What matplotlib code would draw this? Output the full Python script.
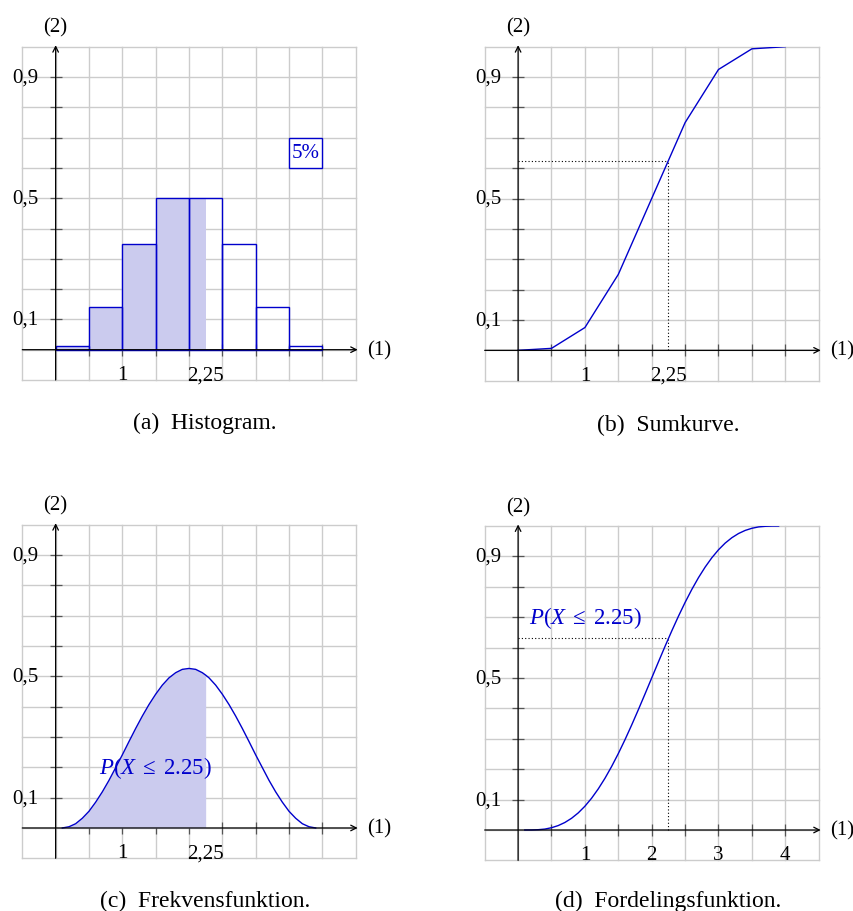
import numpy as np
import matplotlib
matplotlib.use("Agg")
import matplotlib.pyplot as plt
from matplotlib.patches import Rectangle

plt.rcParams['font.family'] = ['Liberation Serif', 'DejaVu Serif']
plt.rcParams['mathtext.fontset'] = 'custom'
plt.rcParams['mathtext.rm'] = 'Liberation Serif'
plt.rcParams['mathtext.it'] = 'Liberation Serif:italic'

# ---------------- data ----------------
bin_edges = [0.0, 0.5, 1.0, 1.5, 2.0, 2.5, 3.0, 3.5, 4.0]
hist_heights = [0.013, 0.14, 0.348, 0.5, 0.5, 0.348, 0.14, 0.013]

sum_x = [0.0, 0.5, 1.0, 1.5, 2.0, 2.5, 3.0, 3.5, 4.0]
sum_y = [0.0, 0.0065, 0.075, 0.25, 0.5, 0.75, 0.925, 0.993, 1.0]
sum_at_225 = 0.625

dens_x = [0.1, 0.2, 0.3, 0.4, 0.5, 0.6, 0.7, 0.8, 0.9, 1.0,
          1.1, 1.2, 1.3, 1.4, 1.5, 1.6, 1.7, 1.8, 1.9, 2.0,
          2.1, 2.2, 2.25, 2.3, 2.4, 2.5, 2.6, 2.7, 2.8, 2.9, 3.0,
          3.1, 3.2, 3.3, 3.4, 3.5, 3.6, 3.7, 3.8, 3.9]
dens_y = [0.0, 0.004, 0.014, 0.032, 0.055, 0.085, 0.119, 0.157, 0.199, 0.241,
          0.285, 0.328, 0.369, 0.407, 0.441, 0.471, 0.495, 0.512, 0.523, 0.526,
          0.523, 0.512, 0.504, 0.495, 0.471, 0.441, 0.407, 0.369, 0.328, 0.285, 0.241,
          0.199, 0.157, 0.119, 0.085, 0.055, 0.032, 0.014, 0.004, 0.0]

cdf_x = [0.1, 0.2, 0.3, 0.4, 0.5, 0.6, 0.7, 0.8, 0.9, 1.0,
         1.1, 1.2, 1.3, 1.4, 1.5, 1.6, 1.7, 1.8, 1.9, 2.0,
         2.1, 2.2, 2.3, 2.4, 2.5, 2.6, 2.7, 2.8, 2.9, 3.0,
         3.1, 3.2, 3.3, 3.4, 3.5, 3.6, 3.7, 3.8, 3.9]
cdf_y = [0.0, 0.0001, 0.001, 0.003, 0.0075, 0.0145, 0.0247, 0.0385, 0.0562, 0.0782,
         0.1045, 0.1352, 0.170, 0.2089, 0.2513, 0.297, 0.3453, 0.3957, 0.4475, 0.5,
         0.5525, 0.6043, 0.6547, 0.703, 0.7487, 0.7911, 0.830, 0.8648, 0.8955, 0.9218,
         0.9438, 0.9615, 0.9753, 0.9855, 0.9925, 0.997, 0.999, 0.9999, 1.0]
cdf_at_225 = 0.63

x_threshold = 2.25
y_tick_vals = [0.1, 0.5, 0.9]
y_tick_labels = ['0,1', '0,5', '0,9']
xlabels_ab = ([1, 2.25], ['1', '2,25'])
xlabels_d = ([1, 2, 3, 4], ['1', '2', '3', '4'])
captions = ['(a)  Histogram.', '(b)  Sumkurve.', '(c)  Frekvensfunktion.', '(d)  Fordelingsfunktion.']
prob_label = r'$P(X\;\leq\;2.25)$'

BLUE = '#0000cc'
FILL = '#cbcbee'
FS = 15

fig = plt.figure(figsize=(8.54, 9.12), dpi=100)
W, H = 854.0, 912.0


def make_ax(left, top, right, bottom):
    ax = fig.add_axes([left / W, 1 - bottom / H, (right - left) / W, (bottom - top) / H])
    ax.set_xlim(-0.5, 4.5)
    ax.set_ylim(-0.1, 1.0)
    ax.set_xticks(np.arange(-0.5, 4.51, 0.5))
    ax.set_yticks(np.arange(-0.1, 1.001, 0.1))
    ax.tick_params(length=0, labelbottom=False, labelleft=False)
    ax.grid(True, color='#cccccc', lw=1.0)
    for ln in ax.get_xgridlines() + ax.get_ygridlines():
        ln.set_clip_on(False)
    for s in ax.spines.values():
        s.set_visible(False)
    ax.set_axisbelow(True)
    # axis ticks
    ax.plot([0] * 9, np.arange(0.1, 0.91, 0.1), ls='none', marker='_', ms=8,
            mew=0.9, color='#555555', zorder=1.5, clip_on=False)
    ax.plot(np.arange(0.5, 4.01, 0.5), [0] * 8, ls='none', marker='|', ms=8,
            mew=0.9, color='#555555', zorder=1.5, clip_on=False)
    # arrows
    ax.annotate('', xy=(4.53, 0), xytext=(-0.5, 0), annotation_clip=False,
                arrowprops=dict(arrowstyle='->', lw=0.9, color='black',
                                shrinkA=0, shrinkB=0, mutation_scale=10), zorder=5)
    ax.annotate('', xy=(0, 1.005), xytext=(0, -0.1), annotation_clip=False,
                arrowprops=dict(arrowstyle='->', lw=0.9, color='black',
                                shrinkA=0, shrinkB=0, mutation_scale=10), zorder=5)
    for v, lab in zip(y_tick_vals, y_tick_labels):
        ax.annotate(lab, xy=(0, v), xytext=(-12.2, 0), textcoords='offset points',
                    ha='right', va='center', fontsize=FS)
    ax.annotate('(2)', xy=(0, 1.0), xytext=(0, 14.0), textcoords='offset points',
                ha='center', va='center', fontsize=FS, annotation_clip=False)
    ax.annotate('(1)', xy=(4.5, 0), xytext=(16.8, 0), textcoords='offset points',
                ha='center', va='center', fontsize=FS, annotation_clip=False)
    return ax


def xlabels(ax, spec):
    for v, lab in zip(*spec):
        ax.annotate(lab, xy=(v, 0), xytext=(0, -18.0), textcoords='offset points',
                    ha='center', va='center', fontsize=FS)


# (a) Histogram
axa = make_ax(22.3, 47.7, 355.7, 381.0)
for i, h in enumerate(hist_heights):
    l, r = bin_edges[i], bin_edges[i + 1]
    if l < x_threshold:
        axa.add_patch(Rectangle((l, 0), min(r, x_threshold) - l, h, facecolor=FILL,
                                edgecolor='none', zorder=2))
for i, h in enumerate(hist_heights):
    l, r = bin_edges[i], bin_edges[i + 1]
    axa.add_patch(Rectangle((l, 0), r - l, h, facecolor='none', edgecolor=BLUE,
                            lw=1.0, zorder=3))
axa.add_patch(Rectangle((3.5, 0.6), 0.5, 0.1, facecolor='white', edgecolor=BLUE,
                        lw=1.0, zorder=3))
axa.text(3.75, 0.65, '5%', color=BLUE, fontsize=FS, ha='center', va='center', zorder=4)
xlabels(axa, xlabels_ab)

# (b) Sumkurve
axb = make_ax(484.7, 47.7, 818.7, 381.7)
axb.plot(sum_x, sum_y, color=BLUE, lw=1.0, zorder=3)
axb.plot([0, x_threshold], [sum_at_225, sum_at_225], color='black', lw=0.8, ls=(0, (1, 2)), zorder=2.5)
axb.plot([x_threshold, x_threshold], [0, sum_at_225], color='black', lw=0.8, ls=(0, (1, 2)), zorder=2.5)
xlabels(axb, xlabels_ab)

# (c) Frekvensfunktion
axc = make_ax(22.3, 525.7, 355.7, 859.3)
dx = np.array(dens_x)
dy = np.array(dens_y)
m = dx <= x_threshold
axc.fill_between(dx[m], 0, dy[m], color=FILL, lw=0, zorder=2)
axc.plot(dx, dy, color=BLUE, lw=1.0, zorder=3)
axc.text(1.5, 0.2, prob_label, color=BLUE, fontsize=16.5, ha='center', va='center', zorder=4)
xlabels(axc, xlabels_ab)

# (d) Fordelingsfunktion
axd = make_ax(484.7, 527.0, 818.7, 861.4)
axd.plot(cdf_x, cdf_y, color=BLUE, lw=1.0, zorder=3)
axd.plot([0, x_threshold], [cdf_at_225, cdf_at_225], color='black', lw=0.8, ls=(0, (1, 2)), zorder=2.5)
axd.plot([x_threshold, x_threshold], [0, cdf_at_225], color='black', lw=0.8, ls=(0, (1, 2)), zorder=2.5)
axd.text(1.0, 0.70, prob_label, color=BLUE, fontsize=16.5, ha='center', va='center', zorder=4)
xlabels(axd, xlabels_d)

# captions
for (cx, cy), cap in zip([(205, 423), (668, 425), (205, 901), (668, 901)], captions):
    fig.text(cx / W, 1 - cy / H, cap, ha='center', va='center', fontsize=17)

fig.savefig('out.png', dpi=100)
